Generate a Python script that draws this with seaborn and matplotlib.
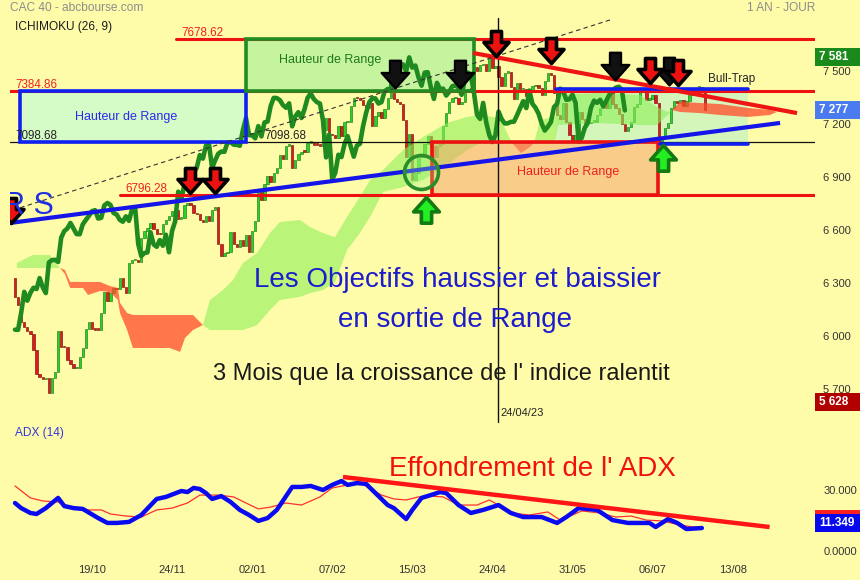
import numpy as np
import pandas as pd
import matplotlib
matplotlib.use("Agg")
import matplotlib.pyplot as plt
import seaborn as sns
from matplotlib.path import Path
from matplotlib.patches import Rectangle

sns.set_style("white")
plt.rcParams["font.family"] = ["Liberation Sans", "DejaVu Sans"]

BG = "#fffca9"
W, H = 860, 580

# ---------------------------------------------------------------
# Data (one close per trading day, CAC 40)
# ---------------------------------------------------------------
closes = [
    6222, 6175, 6077, 6051, 6031, 6013, 5919, 5783, 5769, 5754,
    5765, 5676, 5762, 5794, 6026, 5937, 5936, 5866, 5840, 5819,
    5819, 5879, 5932, 6040, 6080, 6040, 6036, 6035, 6131, 6250,
    6200, 6244, 6273, 6266, 6328, 6276, 6243, 6416, 6430, 6431,
    6419, 6557, 6594, 6609, 6640, 6608, 6577, 6576, 6632, 6657,
    6680, 6707, 6712, 6665, 6669, 6739, 6753, 6742, 6696, 6688,
    6658, 6647, 6677, 6652, 6716, 6729, 6522, 6452, 6470, 6473,
    6587, 6519, 6505, 6543, 6511, 6573, 6474, 6595, 6649, 6817,
    6770, 6860, 6906, 6870, 6924, 6953, 7024, 7004, 7077, 7083,
    6951, 6995, 7032, 7044, 7043, 7095, 7097, 7083, 7082, 7077,
    7166, 7233, 7137, 7136, 7119, 7188, 7130, 7209, 7214, 7301,
    7348, 7347, 7335, 7307, 7292, 7317, 7187, 7243, 7267, 7234,
    7284, 7348, 7373, 7342, 7324, 7316, 7220, 7011, 7141, 6885,
    6925, 7026, 7013, 7087, 7131, 7073, 7015, 7078, 7088, 7187,
    7263, 7322, 7345, 7345, 7316, 7324, 7385, 7398, 7396, 7520,
    7498, 7534, 7537, 7499, 7577, 7519, 7531, 7465, 7417, 7491,
    7493, 7410, 7342, 7433, 7397, 7400, 7361, 7383, 7414, 7418,
    7406, 7365, 7446, 7491, 7478, 7378, 7253, 7229, 7319, 7209,
    7137, 7098, 7138, 7270, 7228, 7203, 7204, 7212, 7213, 7250,
    7290, 7329, 7290, 7389, 7314, 7292, 7258, 7202, 7163, 7185,
    7211, 7296, 7314, 7400, 7386, 7337, 7340, 7366, 7320, 7100,
    7122, 7179, 7207, 7292, 7332, 7320, 7337, 7300, 7332, 7366,
    7388, 7405, 7411, 7395, 7277,
]
first_open = 6330
chikou_shift = 26

# Ichimoku cloud edges (Senkou A / Senkou B), read at a few bars
cloud_bar = [0.6, 5.8, 11.4, 12.3, 14.6, 16.2, 17.9, 22.1, 23.7, 27.6,
             30.8, 33.4, 34.1, 36.4, 38.3, 50.3, 53.6, 55.2, 57.8, 61.0,
             63.3, 67.5, 70.8, 74.0, 78.6, 82.8, 86.0, 92.5, 95.8, 100.0,
             103.9, 107.8, 112.0, 115.3, 119.5, 126.0, 132.5, 140.3, 146.8, 151.0,
             157.5, 160.1, 161.4, 164.3, 167.2, 168.5, 170.5, 175.3, 176.3, 189.9,
             202.9, 208.4, 212.0, 213.3, 215.9, 222.4, 228.9, 238.0, 245.1, 247.4,
             249.0]
span_a = [6413, 6459, 6459, 6430, 6385, 6351, 6272, 6272, 6232, 6255,
          6249, 6204, 6130, 6034, 5932, 5932, 5910, 5989, 6034, 6062,
          6204, 6260, 6317, 6413, 6470, 6583, 6645, 6657, 6617, 6583,
          6560, 6674, 6787, 6883, 6940, 7053, 7126, 7206, 7240, 7251,
          7234, 7138, 7092, 7036, 7070, 7092, 7223, 7240, 7364, 7375,
          7364, 7296, 7268, 7279, 7268, 7262, 7251, 7240, 7251, 7268,
          7285]
span_b = [6385, 6385, 6385, 6385, 6385, 6374, 6306, 6306, 6306, 6306,
          6283, 6272, 6187, 6130, 6119, 6119, 6119, 6119, 6119, 6062,
          6034, 6034, 6034, 6034, 6062, 6147, 6204, 6221, 6243, 6260,
          6306, 6487, 6583, 6674, 6815, 6843, 6883, 6968, 7053, 7092,
          7092, 7092, 7092, 7092, 7092, 7092, 7092, 7092, 7194, 7205,
          7194, 7194, 7251, 7279, 7325, 7319, 7313, 7291, 7279, 7268,
          7268]

# range levels
level_top = 7678.62
level_high = 7384.86
level_mid = 7098.68
level_low = 6796.28
channel_high = 7400
channel_low = 7085

# ADX (14) and its signal line
adx_bar = [0, 2, 5, 7, 10, 14, 16, 19, 22, 27, 30, 33, 37, 41, 46, 49, 54, 56, 58, 60,
           62, 64, 67, 70, 73, 76, 79, 82, 85, 90, 93, 96, 100, 103, 106, 108, 111, 114, 116, 121,
           123, 127, 129, 132, 135, 138, 140, 144, 148, 152, 157, 161, 165, 171, 176, 179, 183, 189, 194, 199,
           203, 206, 208, 212, 215, 218, 223]
adx_val = [23.6, 21.1, 18.7, 18.2, 21.1, 26.1, 22.1, 21.1, 20.7, 16.2,
           13.8, 13.8, 14.3, 17.7, 25.6, 26.6, 29.5, 29.0, 31.0, 30.5,
           28.5, 25.6, 27.0, 24.1, 20.2, 17.7, 14.8, 16.2, 20.2, 31.5,
           31.5, 32.0, 30.0, 32.5, 34.4, 32.5, 33.4, 33.0, 30.0, 22.6,
           21.1, 15.7, 20.2, 26.1, 27.5, 29.0, 28.5, 22.6, 18.7, 20.2,
           22.6, 18.7, 16.7, 16.7, 13.8, 16.7, 21.1, 20.2, 15.2, 13.8,
           13.8, 13.8, 11.8, 15.7, 13.8, 10.8, 11.3]
adx_sig_bar = [0, 5, 9, 14, 17, 22, 28, 31, 36, 41, 46, 51, 56, 60, 66, 71, 75, 79, 83, 88,
               93, 99, 103, 108, 112, 115, 119, 123, 127, 131, 135, 139, 144, 150, 154, 157, 161, 167, 173, 177,
               181, 184, 190, 195, 200, 205, 210, 216, 220, 223]
adx_sig_val = [32.0, 26.1, 24.6, 24.1, 21.6, 20.2, 20.2, 18.2, 17.2, 16.7,
               20.2, 21.1, 23.6, 27.5, 27.5, 26.6, 23.6, 20.7, 21.6, 23.6,
               22.6, 26.6, 31.0, 32.5, 33.4, 31.0, 27.5, 25.6, 25.1, 26.6,
               27.0, 26.6, 22.6, 22.6, 25.1, 22.6, 18.7, 17.7, 19.2, 15.2,
               17.7, 19.7, 18.7, 16.7, 17.2, 15.2, 14.8, 12.8, 11.8, 11.8]

tick_bars = [25, 51, 77, 103, 129, 155, 181, 207, 233]
tick_labels = ["19/10", "24/11", "02/01", "07/02", "15/03", "24/04", "31/05", "06/07", "13/08"]
price_ticks = [5700, 6000, 6300, 6600, 6900, 7200, 7500]

high_1y = 7581
low_1y = 5628
last_close = 7277
last_adx = 11.349
last_adx_sig = 11.8

# signals: (bar, price at the arrow tip)
sell_red_bar = [-1.3, 56.8, 64.9, 156.2, 174.0, 206.2, 215.3]
sell_red_px = [6640, 6809, 6809, 7585, 7545, 7432, 7421]
sell_black_bar = [123.4, 144.5, 194.8, 212.3]
sell_black_px = [7404, 7404, 7449, 7421]
buy_bar = [133.4, 210.4]
buy_px = [6787, 7081]

# trend lines (bar, price)
support_line = ([-1.6, 248.4], [6640, 7206])
resist_line = ([148.7, 253.9], [7602, 7262])
dashed_line = ([-0.7, 193.2], [6713, 7789])
adx_trend = ([106.5, 245.0], [36.4, 11.8])
date_mark = 156.8

# ---------------------------------------------------------------
# Figure
# ---------------------------------------------------------------
fig = plt.figure(figsize=(W / 100, H / 100), dpi=100, facecolor=BG)
ax = fig.add_axes([10 / W, 1 - 425 / H, 805 / W, 425 / H], facecolor=BG)
ax2 = fig.add_axes([10 / W, 1 - 562 / H, 805 / W, 137 / H], facecolor=BG)

xlim = (-5 / 3.08, 800 / 3.08)
for a in (ax, ax2):
    a.set_xlim(*xlim)
    for s in a.spines.values():
        s.set_visible(False)
ax.set_ylim(5496.3, 7901.9)
ax2.set_ylim(-5.41, 61.97)


def fx(x):
    return x / W


def fy(y):
    return 1 - y / H


# candles
df = pd.DataFrame({"bar": np.arange(len(closes)), "close": closes})
df["open"] = df["close"].shift(1).fillna(first_open)
up = (df["close"] >= df["open"]).to_numpy()
body_low = df[["open", "close"]].min(axis=1)
body_h = (df["close"] - df["open"]).abs().clip(lower=8)
ax.bar(df["bar"], body_h, bottom=body_low, width=0.75,
       color=np.where(up, "#25d425", "#dc1c1c"),
       edgecolor=np.where(up, "#0d6e0d", "#6e0000"), linewidth=0.4, zorder=4)

# cloud
cb = np.array(cloud_bar)
sa = np.array(span_a, dtype=float)
sb = np.array(span_b, dtype=float)
ax.fill_between(cb, sa, sb, where=sa >= sb, interpolate=True,
                color="#8cf05a", alpha=0.6, lw=0, zorder=5)
ax.fill_between(cb, sa, sb, where=sa < sb, interpolate=True,
                color="#ff4a2a", alpha=0.75, lw=0, zorder=5)

# chikou span (close shifted back 26 bars)
sns.lineplot(x=df["bar"][:-chikou_shift].to_numpy(), y=df["close"][chikou_shift:].to_numpy(),
             ax=ax, color="#1f8a1f", linewidth=3.3, zorder=6)

# range boxes
def box(x0, x1, y0, y1, face, edge, alpha=1.0, zf=2):
    ax.add_patch(Rectangle((x0, y0), x1 - x0, y1 - y0, facecolor=face,
                           edgecolor="none", alpha=alpha, zorder=zf))
    if edge:
        ax.add_patch(Rectangle((x0, y0), x1 - x0, y1 - y0, facecolor="none",
                               edgecolor=edge, lw=2.6, zorder=7))


box(1.6, 75.0, level_mid, level_high, "#d5fbc6", "#1020f0")
box(75.0, 149.0, level_high, level_top, "#c6f39e", "#228b22")
box(135.4, 208.8, level_low, level_mid, "#f5a06a", "#ee1111", alpha=0.5, zf=5.5)
box(175.6, 238.0, channel_low, channel_high, "#c8f5c0", None, alpha=0.75, zf=2)
ax.plot([175.6, 238.0], [channel_high] * 2, color="#1020f0", lw=2.6, zorder=7)
ax.plot([209.4, 238.0], [channel_low] * 2, color="#1020f0", lw=2.6, zorder=7)

# horizontal levels
ax.plot([52.3, xlim[1]], [level_top] * 2, color="#ee1111", lw=2.2, zorder=6.5)
ax.plot([xlim[0], xlim[1]], [level_high] * 2, color="#ee1111", lw=2.2, zorder=6.5)
ax.plot([34.1, xlim[1]], [level_low] * 2, color="#ee1111", lw=2.2, zorder=6.5)
ax.plot([xlim[0], xlim[1]], [level_mid] * 2, color="#111111", lw=0.9, zorder=6.5)
for bx, lv, col in [(53.9, level_top, "#ee2222"), (0.0, level_high, "#ee2222"),
                    (35.7, level_low, "#ee2222"), (0.0, level_mid, "#222222"),
                    (81.0, level_mid, "#222222")]:
    ax.text(bx, lv, f"{lv:.2f}", color=col, fontsize=8.4, va="bottom", ha="left", zorder=10)

# trend lines
ax.plot(*support_line, color="#1515e8", lw=3.0, zorder=8, solid_capstyle="butt")
ax.plot(*resist_line, color="#f01515", lw=3.0, zorder=8, solid_capstyle="butt")
ax.plot(*dashed_line, color="#333333", lw=0.8, ls=(0, (4, 3)), zorder=8)
ax.plot([date_mark, date_mark], [5513, 7800], color="#111111", lw=1.0, zorder=6)

# arrows
down_arrow = Path([(0, 0), (0.5, 0.56), (0.2, 0.56), (0.2, 1.0), (-0.2, 1.0),
                   (-0.2, 0.56), (-0.5, 0.56), (0, 0)], closed=True)
up_arrow = Path([(x, -y) for x, y in down_arrow.vertices], closed=True)
ax.scatter(sell_black_bar, sell_black_px, marker=down_arrow, s=40 ** 2, c="#111111",
           edgecolors="#000000", linewidths=1.6, zorder=9)
ax.scatter(sell_red_bar, sell_red_px, marker=down_arrow, s=36 ** 2, c="#ee1111",
           edgecolors="#000000", linewidths=2.6, zorder=9)
ax.scatter(buy_bar, buy_px, marker=up_arrow, s=37 ** 2, c="#22ee22",
           edgecolors="#137a13", linewidths=2.6, zorder=9)
ax.scatter([131.8], [6928], s=600, facecolors=[(0.6, 0.95, 0.5, 0.3)],
           edgecolors="#2a8c2a", linewidths=2.6, zorder=8.5)

# texts inside the price panel
ax.text(36.0, 7241, "Hauteur de Range", color="#2a2af0", fontsize=9, ha="center", va="center", zorder=10)
ax.text(102.3, 7560, "Hauteur de Range", color="#1d7a1d", fontsize=9, ha="center", va="center", zorder=10)
ax.text(179.5, 6930, "Hauteur de Range", color="#ee2020", fontsize=9, ha="center", va="center", zorder=10)
ax.text(225.0, 7455, "Bull-Trap", color="#222222", fontsize=8.5, ha="left", va="center", zorder=10)
ax.text(157.5, 5564, "24/04/23", color="#222222", fontsize=8, ha="left", va="center", zorder=10)
ax.text(-3.9, 6691, "R S", color="#2030e0", fontsize=22, ha="left", va="baseline",
        zorder=10, clip_on=True)

# right price axis
ax.set_xticks([])
ax.yaxis.tick_right()
ax.set_yticks(price_ticks)
ax.set_yticklabels([f"{v:,}".replace(",", " ") for v in price_ticks])
ax.tick_params(axis="y", length=0, pad=6, labelsize=8, labelcolor="#333333")
ax.set_ylabel("")

# ADX panel
sns.lineplot(x=adx_sig_bar, y=adx_sig_val, ax=ax2, color="#ff3030", linewidth=0.9)
sns.lineplot(x=adx_bar, y=adx_val, ax=ax2, color="#0a0af0", linewidth=3.2)
ax2.plot(*adx_trend, color="#ff1515", lw=3.2, solid_capstyle="butt")
ax2.set_xlabel("")
ax2.set_ylabel("")
ax2.yaxis.tick_right()
ax2.set_yticks([0, 30])
ax2.set_yticklabels(["0.0000", "30.000"])
ax2.tick_params(axis="y", length=0, pad=6, labelsize=8, labelcolor="#333333")
ax2.set_xticks(tick_bars)
ax2.set_xticklabels(tick_labels)
ax2.tick_params(axis="x", length=0, pad=2, labelsize=8, labelcolor="#333333")


# value badges on the right
def badge(a, value, label, color, dy=0):
    _, ypix = a.transData.transform((0, value))
    yc = ypix + dy
    f0 = fig.transFigure.inverted()
    _, y0 = f0.transform((0, yc - 9))
    _, y1 = f0.transform((0, yc + 9))
    fig.add_artist(Rectangle((815 / W, y0), 45 / W, y1 - y0, transform=fig.transFigure,
                             facecolor=color, edgecolor="none", zorder=20))
    if label:
        fig.text(819 / W, (y0 + y1) / 2, label, color="white", fontsize=8.5, fontweight="bold",
                 ha="left", va="center", zorder=21)


badge(ax, high_1y, "7 581", "#1a8a1a")
badge(ax, last_close, "7 277", "#4a7cf0")
badge(ax, low_1y, "5 628", "#b00000")
badge(ax2, last_adx_sig, None, "#ff2020", dy=8)
badge(ax2, last_adx, f"{last_adx:.3f}", "#0808ee", dy=5)

# figure level texts
fig.text(fx(10), fy(8), "CAC 40 - abcbourse.com", color="#8c8c8c", fontsize=8.6, ha="left", va="center")
fig.text(fx(15), fy(27), "ICHIMOKU (26, 9)", color="#1a1a1a", fontsize=8.6, ha="left", va="center")
fig.text(fx(815), fy(8), "1 AN - JOUR", color="#8c8c8c", fontsize=8.6, ha="right", va="center")
fig.text(fx(15), fy(433), "ADX (14)", color="#3535e0", fontsize=8.6, ha="left", va="center")
fig.text(fx(458), fy(287), "Les Objectifs haussier et baissier", color="#1c1ccc", fontsize=20,
         ha="center", va="baseline")
fig.text(fx(455), fy(327), "en sortie de Range", color="#1c1ccc", fontsize=20,
         ha="center", va="baseline")
fig.text(fx(441), fy(380), "3 Mois que la croissance de l' indice ralentit", color="#1a1a1a",
         fontsize=17, ha="center", va="baseline")
fig.text(fx(532), fy(476), "Effondrement de l' ADX", color="#f01010", fontsize=20,
         ha="center", va="baseline")

fig.savefig("out.png", dpi=100, facecolor=BG)
